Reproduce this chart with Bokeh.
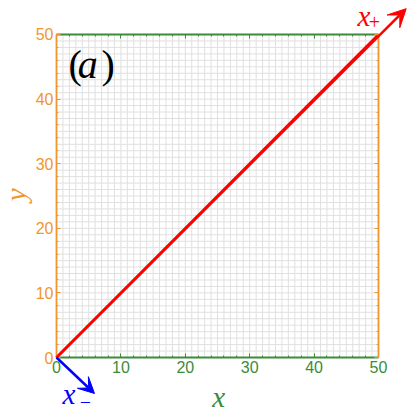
import numpy as np
from bokeh.plotting import figure
from bokeh.models import (LinearAxis, Range1d, SingleIntervalTicker, Arrow, VeeHead,
                          Label, CustomJSTickFormatter)
from bokeh.embed import file_html
from bokeh.resources import INLINE

# data
line_x = [0, 50]
line_y = [0, 50]
plus_start = (0, 0)
plus_end = (54.3, 54.0)
minus_start = (0, 0)
minus_end = (5.9, -5.57)
grid_positions = list(range(0, 51))
axis_bounds = (0, 50)

ORANGE = "#f0962e"
GREEN = "#3a8c3a"
SERIF = "Liberation Serif"
SANS = "Liberation Sans"

p = figure(width=415, height=415, output_backend="svg", toolbar_location=None,
           x_range=Range1d(-8.696, 55.745), y_range=Range1d(-8.978, 55.263),
           x_axis_location=None, y_axis_location=None,
           min_border_left=0, min_border_right=0, min_border_top=0, min_border_bottom=0)
p.outline_line_color = None
p.xgrid.visible = False
p.ygrid.visible = False

# fine grid (every unit) limited to the data box
g0 = [axis_bounds[0]] * len(grid_positions)
g1 = [axis_bounds[1]] * len(grid_positions)
p.segment(x0=grid_positions, y0=g0, x1=grid_positions, y1=g1, line_color="#e0e0e0", line_width=1)
p.segment(x0=g0, y0=grid_positions, x1=g1, y1=grid_positions, line_color="#e0e0e0", line_width=1)

def make_axis(color, labels, loc):
    ax = LinearAxis(ticker=SingleIntervalTicker(interval=10, num_minor_ticks=5),
                    fixed_location=loc, bounds=axis_bounds)
    ax.axis_line_color = color
    ax.axis_line_width = 1.8
    ax.major_tick_line_color = color
    ax.minor_tick_line_color = color
    ax.major_tick_in = 4
    ax.major_tick_out = 0
    ax.minor_tick_in = 2
    ax.minor_tick_out = 0
    ax.major_label_text_color = color
    ax.major_label_text_font = SANS
    ax.major_label_text_font_size = "16px"
    ax.major_label_standoff = 3
    if not labels:
        ax.formatter = CustomJSTickFormatter(code="return ''")
        ax.major_label_standoff = 0
    return ax

p.add_layout(make_axis(ORANGE, True, axis_bounds[0]), "left")
p.add_layout(make_axis(ORANGE, False, axis_bounds[1]), "right")
p.add_layout(make_axis(GREEN, True, axis_bounds[0]), "below")
p.add_layout(make_axis(GREEN, False, axis_bounds[1]), "above")

# main red line
p.line(line_x, line_y, line_color="red", line_width=2.5)

p.add_layout(Arrow(x_start=plus_start[0], y_start=plus_start[1], x_end=plus_end[0], y_end=plus_end[1],
                   line_color="red", line_width=2.5,
                   end=VeeHead(size=18, fill_color="red", line_color="red", line_width=1)))
p.add_layout(Arrow(x_start=minus_start[0], y_start=minus_start[1], x_end=minus_end[0], y_end=minus_end[1],
                   line_color="blue", line_width=2.5,
                   end=VeeHead(size=16, fill_color="blue", line_color="blue", line_width=1)))

def lab(x, y, text, color, size, style="italic", font=SERIF, align="left", angle=0):
    p.add_layout(Label(x=x, y=y, text=text, text_color=color,
                       text_font=font, text_font_style=style, text_font_size=size,
                       text_baseline="middle", text_align=align, angle=angle))

# (a)
lab(1.86, 45.36, "(", "black", "40px", style="normal")
lab(3.3, 45.36, "a", "black", "40px")
lab(7.0, 45.36, ")", "black", "40px", style="normal")

# x+ label
lab(46.74, 52.9, "x", "red", "29px")
lab(49.38, 51.9, "+", "red", "20px", style="normal", align="center")
# x- label
lab(0.93, -5.62, "x", "blue", "29px")
lab(4.5, -6.95, "\u2212", "blue", "20px", style="normal", align="center")

# axis labels
lab(25.2, -6.16, "x", GREEN, "29px", align="center")
lab(-6.27, 25.2, "y", ORANGE, "29px", align="center", angle=np.pi / 2)

open("out.html", "w").write(file_html(p, INLINE))
